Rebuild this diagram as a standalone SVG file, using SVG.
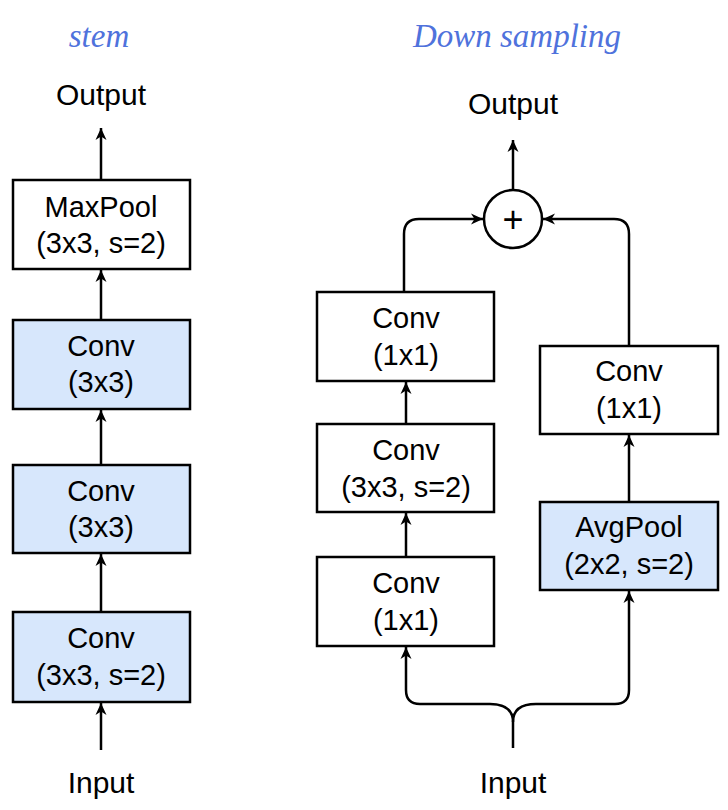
<svg xmlns="http://www.w3.org/2000/svg" width="728" height="810" viewBox="0 0 728 810">
<defs>
<style>
.box{stroke:#000;stroke-width:2.5}
.w{fill:#fff}
.b{fill:#d7e7fc}
.t{font-family:"Liberation Sans",Arial,sans-serif;font-size:29px;fill:#000;text-anchor:middle}
.io{font-size:30px}
.title{font-family:"Liberation Serif","DejaVu Serif",serif;font-style:italic;font-size:33px;fill:#4f72dc;text-anchor:middle}
.c{fill:none;stroke:#000;stroke-width:2.5}
</style>
<marker id="ah" markerUnits="userSpaceOnUse" markerWidth="14" markerHeight="12" refX="12" refY="6" orient="auto">
<path d="M0,0.5 L12,6 L0,11.5 L3.5,6 z" fill="#000"/>
</marker>
</defs>
<rect width="728" height="810" fill="#fff"/>

<text class="title" x="99" y="47">stem</text>
<text class="title" x="517" y="47">Down sampling</text>

<g id="connectors">
<line class="c" x1="101" y1="750" x2="101" y2="703" marker-end="url(#ah)"/>
<line class="c" x1="101" y1="612" x2="101" y2="554" marker-end="url(#ah)"/>
<line class="c" x1="101" y1="465" x2="101" y2="410" marker-end="url(#ah)"/>
<line class="c" x1="101" y1="320" x2="101" y2="270" marker-end="url(#ah)"/>
<line class="c" x1="101" y1="180" x2="101" y2="128" marker-end="url(#ah)"/>
<line class="c" x1="406" y1="557" x2="406" y2="513" marker-end="url(#ah)"/>
<line class="c" x1="406" y1="424" x2="406" y2="382" marker-end="url(#ah)"/>
<line class="c" x1="629" y1="502" x2="629" y2="435" marker-end="url(#ah)"/>
<line class="c" x1="513" y1="190" x2="513" y2="140" marker-end="url(#ah)"/>
<path class="c" d="M404,292 V234 Q404,219 419,219 H483" marker-end="url(#ah)"/>
<path class="c" d="M629,346 V234 Q629,219 614,219 H543" marker-end="url(#ah)"/>
<path class="c" d="M513,748 V722 C513,710 505,704 490,704 H420 Q406,704 406,690 V647" marker-end="url(#ah)"/>
<path class="c" d="M513,722 C513,710 521,704 536,704 H615 Q629,704 629,690 V591" marker-end="url(#ah)"/>
</g>

<g id="stem-output"><text class="t io" x="101" y="105">Output</text></g>
<g id="stem-maxpool"><rect class="box w" x="13" y="180" width="177" height="89"/><text class="t" x="101" y="217">MaxPool</text><text class="t" x="101" y="253">(3x3, s=2)</text></g>
<g id="stem-conv3"><rect class="box b" x="13" y="320" width="177" height="89"/><text class="t" x="101" y="356">Conv</text><text class="t" x="101" y="392">(3x3)</text></g>
<g id="stem-conv2"><rect class="box b" x="13" y="465" width="177" height="88"/><text class="t" x="101" y="501">Conv</text><text class="t" x="101" y="537">(3x3)</text></g>
<g id="stem-conv1"><rect class="box b" x="13" y="612" width="177" height="90"/><text class="t" x="101" y="648">Conv</text><text class="t" x="101" y="685">(3x3, s=2)</text></g>
<g id="stem-input"><text class="t io" x="101" y="793">Input</text></g>

<g id="ds-output"><text class="t io" x="513" y="114">Output</text></g>
<g id="ds-add"><circle cx="513" cy="219" r="29" fill="#fff" stroke="#000" stroke-width="2.5"/><text x="513" y="232" font-family="Liberation Sans,Arial,sans-serif" font-size="36" text-anchor="middle">+</text></g>
<g id="ds-conv-top"><rect class="box w" x="317" y="292" width="177" height="89"/><text class="t" x="406" y="328">Conv</text><text class="t" x="406" y="365">(1x1)</text></g>
<g id="ds-conv-mid"><rect class="box w" x="317" y="424" width="177" height="88"/><text class="t" x="406" y="460">Conv</text><text class="t" x="406" y="497">(3x3, s=2)</text></g>
<g id="ds-conv-bot"><rect class="box w" x="317" y="557" width="177" height="89"/><text class="t" x="406" y="593">Conv</text><text class="t" x="406" y="630">(1x1)</text></g>
<g id="ds-conv-right"><rect class="box w" x="540" y="346" width="178" height="88"/><text class="t" x="629" y="381">Conv</text><text class="t" x="629" y="418">(1x1)</text></g>
<g id="ds-avgpool"><rect class="box b" x="540" y="502" width="178" height="88"/><text class="t" x="629" y="537">AvgPool</text><text class="t" x="629" y="574">(2x2, s=2)</text></g>
<g id="ds-input"><text class="t io" x="513" y="793">Input</text></g>
</svg>
